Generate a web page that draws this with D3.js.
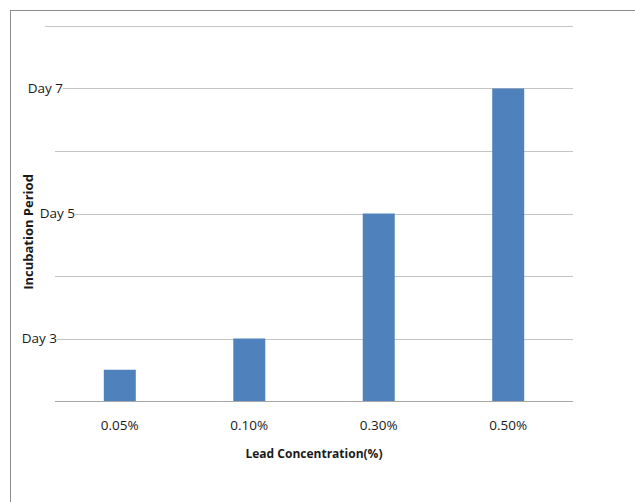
<!DOCTYPE html>
<html>
<head>
<meta charset="utf-8">
<script src="https://cdn.jsdelivr.net/npm/d3@7"></script>
<style>
  body { margin: 0; background: #fff; }
  text { font-family: "Open Sans", "Liberation Sans", sans-serif; fill: #1a1a1a; }
</style>
</head>
<body>
<div id="chart"></div>
<script>
// data
const concentrations = ["0.05%", "0.10%", "0.30%", "0.50%"];
const incubationDays = [2.5, 3, 5, 7];
const gridDays = [2, 3, 4, 5, 6, 7, 8];
const labeledDays = [3, 5, 7];
const dayLabels = ["Day 3", "Day 5", "Day 7"];

const W = 635, H = 502;
const plot = { left: 55, right: 573, top: 26, bottom: 401 };
// the labels in the source sit a little unevenly; keep their end points here
const labelEnd = { 3: 57, 5: 75, 7: 63 };

const svg = d3.select("#chart").append("svg").attr("width", W).attr("height", H);

// outer frame
svg.append("rect")
  .attr("x", 10.5).attr("y", 10.5)
  .attr("width", W + 10).attr("height", H + 10)
  .attr("fill", "none").attr("stroke", "#8c8c8c").attr("stroke-width", 1);

const x = d3.scaleBand().domain(concentrations).range([plot.left, plot.right])
  .paddingInner(0.753).paddingOuter(0.377);
const y = d3.scaleLinear().domain([2, 8]).range([plot.bottom, plot.top]);

// gridlines
svg.append("g").selectAll("line")
  .data(gridDays)
  .join("line")
  .attr("x1", d => labelEnd[d] !== undefined ? labelEnd[d] : (d === 8 ? 45 : plot.left))
  .attr("x2", plot.right)
  .attr("y1", d => Math.round(y(d)) + 0.5)
  .attr("y2", d => Math.round(y(d)) + 0.5)
  .attr("stroke", d => d === 2 ? "#a6a6a6" : "#c4c4c4")
  .attr("stroke-width", 1.2);

// bars
svg.append("g").selectAll("rect")
  .data(concentrations)
  .join("rect")
  .attr("x", d => x(d))
  .attr("width", x.bandwidth())
  .attr("y", (d, i) => y(incubationDays[i]))
  .attr("height", (d, i) => y(2) - y(incubationDays[i]))
  .attr("fill", "#4F81BD");

// y labels
svg.append("g").selectAll("text")
  .data(labeledDays)
  .join("text")
  .attr("x", d => labelEnd[d])
  .attr("y", d => y(d))
  .attr("dy", "0.35em")
  .attr("text-anchor", "end")
  .style("font-size", "13.5px")
  .text((d, i) => dayLabels[i]);

// x labels
svg.append("g").selectAll("text")
  .data(concentrations)
  .join("text")
  .attr("x", d => x(d) + x.bandwidth() / 2)
  .attr("y", 425)
  .attr("dy", "0.35em")
  .attr("text-anchor", "middle")
  .style("font-size", "13.5px")
  .text(d => d);

svg.append("text")
  .attr("x", 314).attr("y", 454)
  .attr("dy", "0.35em")
  .attr("text-anchor", "middle")
  .style("font-size", "12px").style("font-weight", "bold")
  .text("Lead Concentration(%)");

svg.append("text")
  .attr("transform", "translate(28,232) rotate(-90)")
  .attr("dy", "0.35em")
  .attr("text-anchor", "middle")
  .style("font-size", "13px").style("font-weight", "bold")
  .text("Incubation Period");
</script>
</body>
</html>
